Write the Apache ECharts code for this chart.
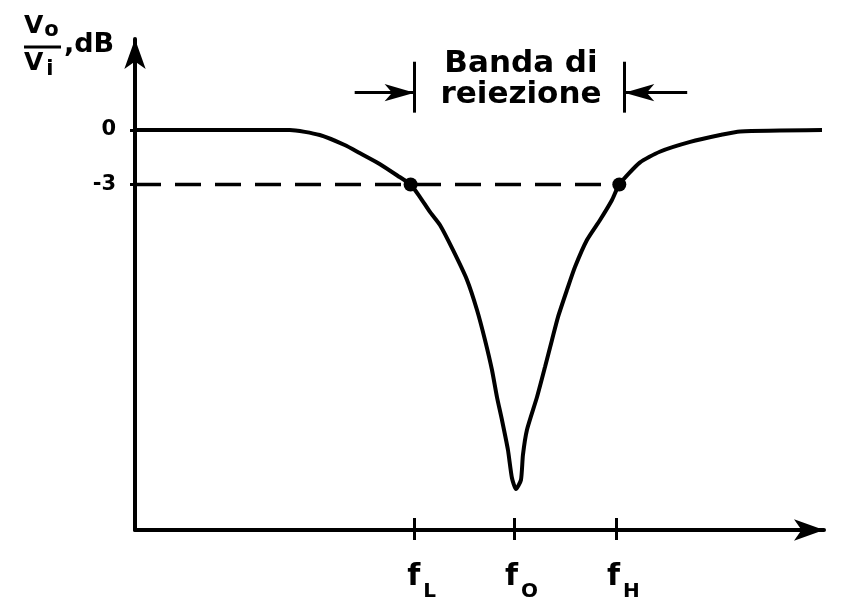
<!DOCTYPE html>
<html>
<head>
<meta charset="utf-8">
<title>Banda di reiezione</title>
<script src="https://cdn.jsdelivr.net/npm/echarts@6/dist/echarts.min.js"></script>
<style>
  html, body { margin: 0; padding: 0; background: #fff; }
  #main { width: 849px; height: 600px; }
</style>
</head>
<body>
<div id="main"></div>
<script>
// curve (x in arbitrary frequency units, y in dB)
const freq = [0, 15.5, 18.5, 21, 22.5, 24.5, 26.5, 27.6, 28.54, 29.54, 30.54, 31.84, 33.25, 34.25,
  35.05, 35.75, 36.25, 36.75, 37.35, 37.75, 38.15, 38.65, 38.85, 39.25, 40.26, 41.06, 41.76,
  42.36, 43.26, 44.06, 45.26, 46.57, 47.77, 48.5, 50.55, 52.55, 55.6, 58.6, 60.6, 68.8]
const gain = [0, 0, -0.28, -0.83, -1.27, -1.87, -2.59, -3, -3.69, -4.51, -5.23, -6.6, -8.25, -9.9,
  -11.55, -13.2, -14.69, -15.95, -17.6, -19.14, -19.75, -19.25, -17.88, -16.5, -14.69, -13.04, -11.55,
  -10.29, -8.8, -7.54, -6.05, -4.95, -3.85, -3, -1.8, -1.2, -0.66, -0.28, -0.08, 0]

// -3 dB points and dashed level
const cutFreq = [27.6, 48.5]
const cutGain = [-3, -3]

// x ticks
const xTicks = [28, 38, 48.2]
const xTickSubs = ['L', 'O', 'H']

// y ticks
const yTicks = [0, -3]
const yTickNames = ['0', '-3']

// "Banda di reiezione" markers
const bandEdges = [28, 49]
const bandBarRange = [0.95, 3.75]
const bandArrowLevel = 2.05
const bandArrowTails = [22, 55.3]

const black = '#000'
const font = 'DejaVu Sans'

const chart = echarts.init(document.getElementById('main'))

const curveData = freq.map((f, i) => [f, gain[i]])
const cutData = cutFreq.map((f, i) => [f, cutGain[i]])

const option = {
  backgroundColor: '#fff',
  animation: false,
  grid: {
    left: 135,
    right: 25,
    top: 39,
    bottom: 70,
    containLabel: false,
    outerBoundsMode: 'none'
  },
  xAxis: [
    {
      type: 'value',
      min: 0,
      max: 69,
      axisLine: {
        show: true,
        onZero: false,
        symbol: ['none', 'arrow'],
        symbolSize: [16, 30],
        lineStyle: { color: black, width: 4 }
      },
      splitLine: { show: false },
      axisTick: {
        show: true,
        customValues: xTicks,
        length: 10,
        lineStyle: { color: black, width: 3 }
      },
      axisLabel: {
        customValues: xTicks,
        margin: 22,
        formatter: function (value) {
          const idx = xTicks.indexOf(value)
          return '{sp|}{f|f}{s|' + (idx >= 0 ? xTickSubs[idx] : '') + '}'
        },
        rich: {
          sp: { width: 14 },
          f: { fontFamily: font, fontWeight: 'bold', fontSize: 30, color: black },
          s: { fontFamily: font, fontWeight: 'bold', fontSize: 20, color: black, padding: [30, 0, 0, 3] }
        }
      }
    },
    {
      // second axis only to draw the upper half of the ticks
      type: 'value',
      position: 'bottom',
      min: 0,
      max: 69,
      axisLine: { show: false, onZero: false },
      splitLine: { show: false },
      axisLabel: { show: false },
      axisTick: {
        show: true,
        inside: true,
        customValues: xTicks,
        length: 12,
        lineStyle: { color: black, width: 3 }
      }
    }
  ],
  yAxis: {
    type: 'value',
    min: -22,
    max: 5,
    axisLine: {
      show: true,
      onZero: false,
      symbol: ['none', 'arrow'],
      symbolSize: [16, 30],
      lineStyle: { color: black, width: 4 }
    },
    splitLine: { show: false },
    axisTick: {
      show: true,
      customValues: yTicks,
      length: 5,
      lineStyle: { color: black, width: 3 }
    },
    axisLabel: {
      customValues: yTicks,
      margin: 19,
      formatter: function (value) {
        const idx = yTicks.indexOf(value)
        return '{t|' + (idx >= 0 ? yTickNames[idx] : '') + '}'
      },
      rich: {
        t: { fontFamily: font, fontWeight: 'bold', fontSize: 21, color: black }
      }
    }
  },
  graphic: [
    {
      type: 'text',
      left: 24,
      top: 14,
      style: {
        text: '{v|V}{s|o}',
        rich: {
          v: { fontFamily: font, fontWeight: 'bold', fontSize: 25, fill: black },
          s: { fontFamily: font, fontWeight: 'bold', fontSize: 21, fill: black, padding: [8, 0, 0, 1] }
        }
      }
    },
    {
      type: 'line',
      shape: { x1: 24, y1: 47, x2: 61, y2: 47 },
      style: { stroke: black, lineWidth: 3 }
    },
    {
      type: 'text',
      left: 24,
      top: 51,
      style: {
        text: '{v|V}{s|i}',
        rich: {
          v: { fontFamily: font, fontWeight: 'bold', fontSize: 25, fill: black },
          s: { fontFamily: font, fontWeight: 'bold', fontSize: 21, fill: black, padding: [12, 0, 0, 3] }
        }
      }
    },
    {
      type: 'text',
      left: 64,
      top: 31,
      style: {
        text: ',dB',
        fontFamily: font,
        fontWeight: 'bold',
        fontSize: 27,
        fill: black
      }
    },
    {
      type: 'text',
      x: 521,
      y: 48,
      style: {
        text: 'Banda di\nreiezione',
        align: 'center',
        fontFamily: font,
        fontWeight: 'bold',
        fontSize: 31,
        lineHeight: 31,
        fill: black
      }
    }
  ],
  series: [
    {
      name: 'risposta',
      type: 'line',
      data: curveData,
      smooth: 0.2,
      showSymbol: false,
      lineStyle: { color: black, width: 4 },
      z: 3
    },
    {
      name: 'livello -3 dB',
      type: 'line',
      data: [[0, cutGain[0]], cutData[1]],
      showSymbol: false,
      lineStyle: { color: black, width: 3.5, type: [26, 14] },
      z: 2
    },
    {
      name: 'punti -3 dB',
      type: 'scatter',
      data: cutData,
      symbolSize: 14,
      itemStyle: { color: black, opacity: 1 },
      z: 4
    },
    {
      name: 'banda',
      type: 'line',
      data: [],
      markLine: {
        silent: true,
        animation: false,
        label: { show: false },
        lineStyle: { color: black, width: 3, type: 'solid' },
        symbol: ['none', 'none'],
        data: [
          [{ coord: [bandEdges[0], bandBarRange[0]] }, { coord: [bandEdges[0], bandBarRange[1]] }],
          [{ coord: [bandEdges[1], bandBarRange[0]] }, { coord: [bandEdges[1], bandBarRange[1]] }],
          [
            { coord: [bandArrowTails[0], bandArrowLevel], symbol: 'none' },
            { coord: [bandEdges[0], bandArrowLevel], symbol: 'arrow', symbolSize: [13, 30] }
          ],
          [
            { coord: [bandArrowTails[1], bandArrowLevel], symbol: 'none' },
            { coord: [bandEdges[1], bandArrowLevel], symbol: 'arrow', symbolSize: [13, 30] }
          ]
        ]
      }
    }
  ]
}

chart.setOption(option)
window.addEventListener('resize', function () {
  chart.resize()
})
</script>
</body>
</html>
